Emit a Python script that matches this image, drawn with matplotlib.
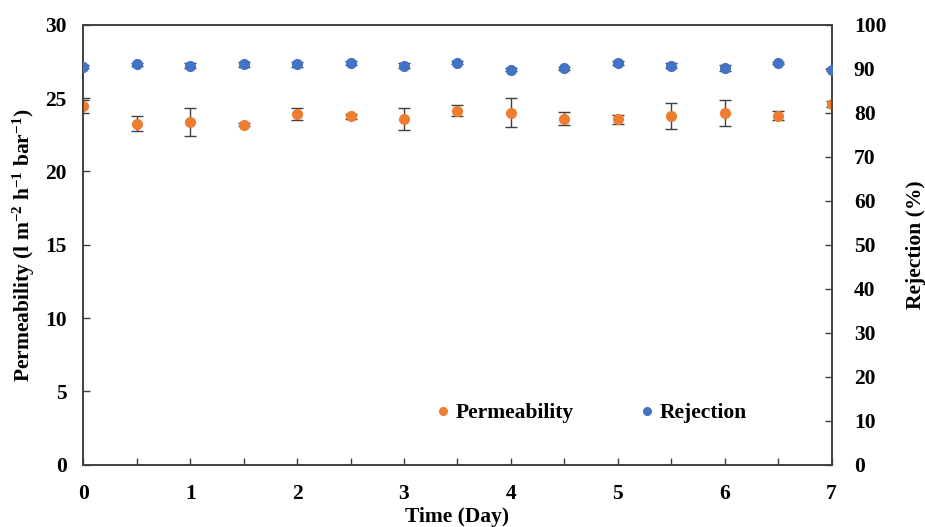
import matplotlib
matplotlib.use("Agg")
import matplotlib.pyplot as plt
from matplotlib.lines import Line2D

days = [0, 0.5, 1, 1.5, 2, 2.5, 3, 3.5, 4, 4.5, 5, 5.5, 6, 6.5, 7]
permeability = [24.45, 23.25, 23.35, 23.2, 23.9, 23.75, 23.6, 24.15, 24.0, 23.6, 23.55, 23.8, 24.0, 23.8, 24.6]
perm_err = [0.45, 0.5, 0.95, 0.12, 0.4, 0.15, 0.75, 0.4, 1.0, 0.42, 0.32, 0.9, 0.88, 0.3, 0.2]
rejection = [90.5, 91.0, 90.7, 91.0, 91.0, 91.3, 90.7, 91.4, 89.8, 90.1, 91.3, 90.7, 90.1, 91.3, 89.8]
rej_err = [0.4, 0.4, 0.5, 0.6, 0.5, 0.4, 0.5, 0.4, 0.4, 0.4, 0.4, 0.5, 0.7, 0.3, 0.3]

orange = "#ED7D31"
blue = "#4472C4"
font = "Liberation Serif"
plt.rcParams["font.family"] = [font, "DejaVu Serif"]
plt.rcParams["font.weight"] = "bold"
plt.rcParams["mathtext.fontset"] = "custom"
plt.rcParams["mathtext.rm"] = font + ":bold"
plt.rcParams["mathtext.bf"] = font + ":bold"
plt.rcParams["mathtext.it"] = font + ":bold"
plt.rcParams["mathtext.default"] = "bf"

FS = 15.5

fig = plt.figure(figsize=(9.25, 5.27), dpi=100)
ax = fig.add_axes([0.090, 0.118, 0.809, 0.835])
ax2 = ax.twinx()

ax.errorbar(days, permeability, yerr=perm_err, fmt="o", color=orange, ms=7,
            ecolor="#404040", elinewidth=1.0, capsize=4, capthick=1.0, zorder=3)
ax2.errorbar(days, rejection, yerr=rej_err, fmt="o", color=blue, ms=7,
             ecolor="#404040", elinewidth=1.0, capsize=4, capthick=1.0, zorder=3)

ax.set_xlim(0, 7)
ax.set_ylim(0, 30)
ax2.set_ylim(0, 100)
ax.set_xticks(range(0, 8))
ax.set_xticks([i + 0.5 for i in range(7)], minor=True)
ax.set_yticks(range(0, 31, 5))
ax2.set_yticks(range(0, 101, 10))

for a in (ax, ax2):
    for s in a.spines.values():
        s.set_color("#404040")
        s.set_linewidth(1.2)

ax.tick_params(axis="x", which="both", direction="in", length=5, width=1, color="#404040",
               labelsize=FS, pad=14)
ax.tick_params(axis="y", direction="in", length=5, width=1, color="#404040", labelsize=FS, pad=12)
ax2.tick_params(axis="y", direction="in", length=5, width=1, color="#404040", labelsize=FS, pad=16)

for lab in ax.get_xticklabels() + ax.get_yticklabels() + ax2.get_yticklabels():
    lab.set_fontweight("bold")

ax.set_xlabel("Time (Day)", fontsize=FS, fontweight="bold", labelpad=2)
ax.set_ylabel("Permeability (l m$^{-2}$ h$^{-1}$ bar$^{-1}$)",
              fontsize=FS, fontweight="bold", labelpad=6)
ax2.set_ylabel("Rejection (%)", fontsize=FS, fontweight="bold", labelpad=14)

handles = [Line2D([], [], marker="o", ls="none", color=orange, ms=5.5),
           Line2D([], [], marker="o", ls="none", color=blue, ms=5.5)]
ax.legend(handles, ["Permeability", "Rejection"], loc="lower left",
          bbox_to_anchor=(0.44, 0.05), ncol=2, frameon=False,
          handletextpad=0.1, columnspacing=2.9, handlelength=1.0,
          prop={"family": font, "weight": "bold", "size": FS})

fig.savefig("out.png", dpi=100)
